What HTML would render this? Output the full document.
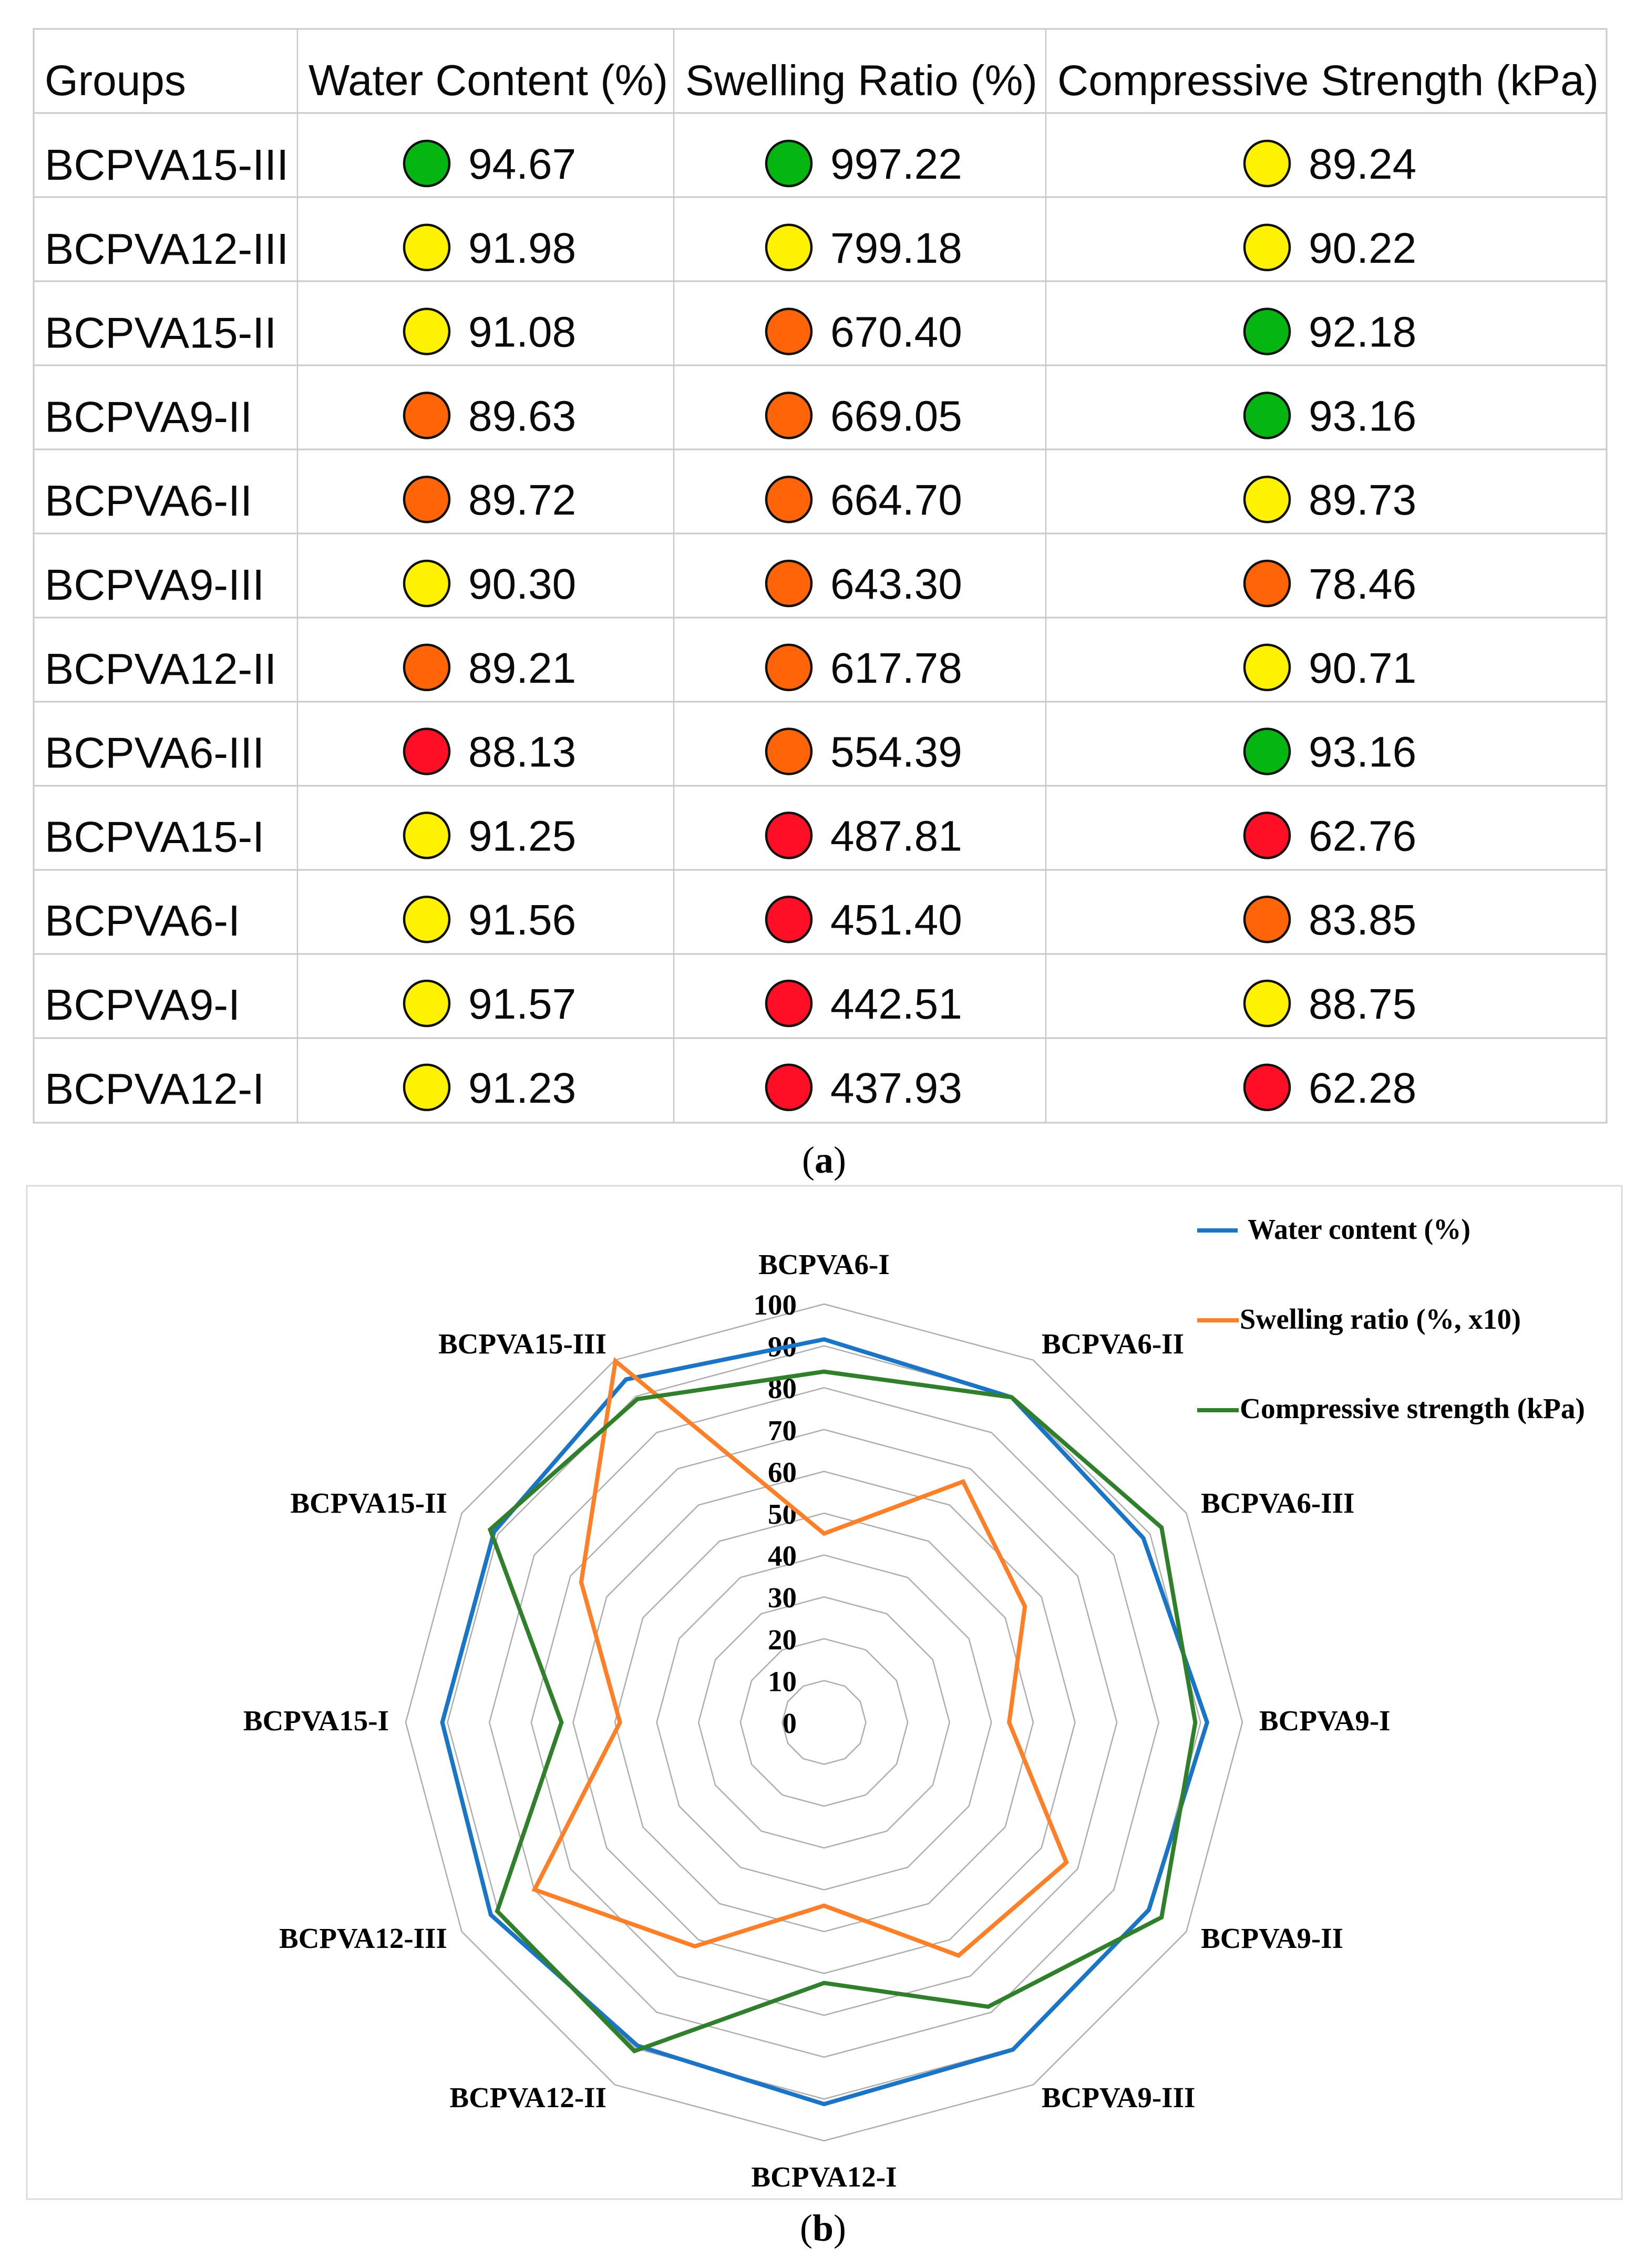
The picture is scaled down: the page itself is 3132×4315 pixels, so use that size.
<!DOCTYPE html>
<html lang="en">
<head>
<meta charset="utf-8">
<title>Hydrogel groups ranking table and radar chart</title>
<style>
html,body{margin:0;padding:0;background:#fff;width:3132px;height:4315px;overflow:hidden}
svg{display:block}
.sans{font-family:"Liberation Sans",Arial,sans-serif;fill:#0a0a0a}
.serif{font-family:"Liberation Serif","Times New Roman",serif;fill:#000}
.b{font-weight:700}
</style>
</head>
<body>
<svg id="root" xmlns="http://www.w3.org/2000/svg" width="3132" height="4315" viewBox="0 0 3132 4315">
  <rect width="3132" height="4315" fill="#fff"/>
  <g id="table">
    <rect x="64" y="55" width="2993" height="2081" fill="none" stroke="#c9c9c9" stroke-width="3"/>
    <line x1="566" y1="55" x2="566" y2="2136" stroke="#c9c9c9" stroke-width="2.5"/>
    <line x1="1282" y1="55" x2="1282" y2="2136" stroke="#c9c9c9" stroke-width="2.5"/>
    <line x1="1990" y1="55" x2="1990" y2="2136" stroke="#c9c9c9" stroke-width="2.5"/>
    <text class="sans" x="85" y="181" font-size="82">Groups</text>
    <text class="sans" x="587" y="181" font-size="83">Water Content (%)</text>
    <text class="sans" x="1304" y="181" font-size="82">Swelling Ratio (%)</text>
    <text class="sans" x="2012" y="181" font-size="82">Compressive Strength (kPa)</text>
  </g>
  <text class="serif" x="1568" y="2231" font-size="72" text-anchor="middle">(<tspan class="b">a</tspan>)</text>
  <rect x="51" y="2256" width="3035" height="1928" fill="none" stroke="#dcdcdc" stroke-width="3"/>
  <g id="radar"></g>
  <g id="legend">
    <g>
      <line x1="2278" y1="2341" x2="2355" y2="2341" stroke="#1b75c6" stroke-width="8"/>
      <text class="serif b" x="2374" y="2357" font-size="55" textLength="424" lengthAdjust="spacingAndGlyphs">Water content (%)</text>
    </g>
    <g>
      <line x1="2278" y1="2512" x2="2357" y2="2512" stroke="#fd7f28" stroke-width="8"/>
      <text class="serif b" x="2359" y="2528" font-size="55" textLength="535" lengthAdjust="spacingAndGlyphs">Swelling ratio (%, x10)</text>
    </g>
    <g>
      <line x1="2278" y1="2683" x2="2357" y2="2683" stroke="#2f7f2b" stroke-width="8"/>
      <text class="serif b" x="2359" y="2698" font-size="55" textLength="657" lengthAdjust="spacingAndGlyphs">Compressive strength (kPa)</text>
    </g>
  </g>
  <text class="serif" x="1566" y="4263" font-size="72" text-anchor="middle">(<tspan class="b">b</tspan>)</text>
</svg>
<script>
// ---- Table data ----
const tableGroups = ["BCPVA15-III","BCPVA12-III","BCPVA15-II","BCPVA9-II","BCPVA6-II","BCPVA9-III","BCPVA12-II","BCPVA6-III","BCPVA15-I","BCPVA6-I","BCPVA9-I","BCPVA12-I"];
const tableWater = ["94.67","91.98","91.08","89.63","89.72","90.30","89.21","88.13","91.25","91.56","91.57","91.23"];
const tableSwelling = ["997.22","799.18","670.40","669.05","664.70","643.30","617.78","554.39","487.81","451.40","442.51","437.93"];
const tableStrength = ["89.24","90.22","92.18","93.16","89.73","78.46","90.71","93.16","62.76","83.85","88.75","62.28"];
const ratingWater = ["green","yellow","yellow","orange","orange","yellow","orange","red","yellow","yellow","yellow","yellow"];
const ratingSwelling = ["green","yellow","orange","orange","orange","orange","orange","orange","red","red","red","red"];
const ratingStrength = ["yellow","yellow","green","green","yellow","orange","yellow","green","red","orange","yellow","red"];

// ---- Radar chart data ----
const categories = ["BCPVA6-I","BCPVA6-II","BCPVA6-III","BCPVA9-I","BCPVA9-II","BCPVA9-III","BCPVA12-I","BCPVA12-II","BCPVA12-III","BCPVA15-I","BCPVA15-II","BCPVA15-III"];
const waterContent = [91.56,89.72,88.13,91.57,89.63,90.30,91.23,89.21,91.98,91.25,91.08,94.67];
const swellingRatioX10 = [45.14,66.47,55.44,44.25,66.91,64.33,43.79,61.78,79.92,48.78,67.04,99.72];
const compressiveStrength = [83.85,89.73,93.16,88.75,93.16,78.46,62.28,90.71,90.22,62.76,92.18,89.24];
const radialTicks = [0,10,20,30,40,50,60,70,80,90,100];

const NS = "http://www.w3.org/2000/svg";
function mk(tag, parent, props, text) {
  const el = document.createElementNS(NS, tag);
  for (const k in props) el.setAttribute(k, props[k]);
  if (text !== undefined) el.textContent = text;
  parent.appendChild(el);
  return el;
}
const slug = s => s.toLowerCase();

// ---- Table ----
const table = document.getElementById("table");
const swatch = {green:"#05b512", yellow:"#fff200", orange:"#ff6508", red:"#ff0f26"};
const rowLine = i => 215 + i * 160;
const rowMid = i => 311 + i * 159.8;
for (let i = 0; i < 12; i++) {
  const rule = mk("line", table, {x1:64, x2:3057, y1:rowLine(i), y2:rowLine(i), stroke:"#c9c9c9", "stroke-width":3});
  
  
}
const tableCols = [
  {key:"water", values:tableWater, ratings:ratingWater, cx:812, tx:891},
  {key:"swelling", values:tableSwelling, ratings:ratingSwelling, cx:1501, tx:1580},
  {key:"strength", values:tableStrength, ratings:ratingStrength, cx:2411, tx:2490}
];
tableGroups.forEach((g, i) => {
  const cy = rowMid(i);
  const label = mk("text", table, {class:"sans", x:85, y:cy + 31, "font-size":83}, g);
  
  
  tableCols.forEach(c => {
    const dot = mk("circle", table, {cx:c.cx, cy:cy, r:43, fill:swatch[c.ratings[i]], stroke:"#111", "stroke-width":4.5});
    
    
    const val = mk("text", table, {class:"sans", x:c.tx, y:cy + 29, "font-size":82}, c.values[i]);
    
    
  });
});

// ---- Radar ----
const radar = document.getElementById("radar");
const cx = 1568, cy = 3277, outerR = 796, axisMax = 100;
const rScale = v => v / axisMax * outerR;
const angle = i => i * 2 * Math.PI / categories.length;
const px = (i, v) => cx + rScale(v) * Math.sin(angle(i));
const py = (i, v) => cy - rScale(v) * Math.cos(angle(i));
const polyPoints = vals => vals.map((v, i) => px(i, v).toFixed(1) + "," + py(i, v).toFixed(1)).join(" ");

radialTicks.forEach(t => {
  if (t > 0) {
    const ring = mk("polygon", radar, {points:polyPoints(categories.map(() => t)), fill:"none", stroke:"#adadad", "stroke-width":2.5});
    
    
  }
  const lab = mk("text", radar, {class:"serif b", x:1516, y:py(0, t) + 20, "text-anchor":"end", "font-size":55}, String(t));
  
  
});

categories.forEach((c, i) => {
  const s = Math.sin(angle(i)), co = Math.cos(angle(i));
  const axial = Math.abs(s) < 1e-6;
  const x = px(i, axisMax) + 32 * s;
  const y = py(i, axisMax) + 15 - 32 * co + (axial ? -40 * co : 0);
  const anchor = axial ? "middle" : (s > 0 ? "start" : "end");
  const lab = mk("text", radar, {class:"serif b", x:x, y:y, "text-anchor":anchor, "font-size":55}, c);
  
  
});

const waterLine = mk("polygon", radar, {points:polyPoints(waterContent), fill:"none", stroke:"#1b75c6", "stroke-width":8, "stroke-linejoin":"miter"});


const swellingLine = mk("polygon", radar, {points:polyPoints(swellingRatioX10), fill:"none", stroke:"#fd7f28", "stroke-width":8, "stroke-linejoin":"miter"});


const strengthLine = mk("polygon", radar, {points:polyPoints(compressiveStrength), fill:"none", stroke:"#2f7f2b", "stroke-width":8, "stroke-linejoin":"miter"});


</script>
</body>
</html>
